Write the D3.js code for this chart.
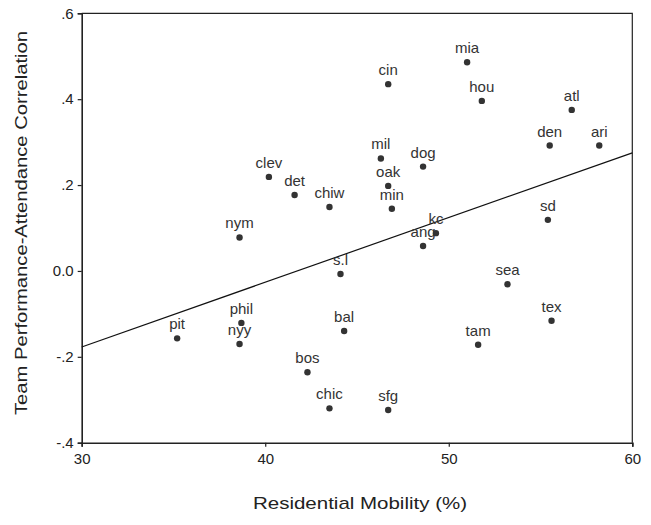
<!DOCTYPE html>
<html>
<head>
<meta charset="utf-8">
<script src="https://cdn.jsdelivr.net/npm/d3@7"></script>
<style>
  body { margin: 0; background: #fff; }
  svg { display: block; font-family: "Liberation Sans", Arial, sans-serif; }
</style>
</head>
<body>
<svg id="chart" width="651" height="525"></svg>
<script>
// team labels, residential mobility (%), performance-attendance correlation
const teams = ['mia', 'cin', 'hou', 'atl', 'den', 'ari', 'mil', 'dog', 'clev', 'oak',
  'det', 'chiw', 'min', 'sd', 'kc', 'nym', 'ang', 's.l', 'sea', 'tex', 'phil', 'bal',
  'pit', 'nyy', 'tam', 'bos', 'chic', 'sfg'];
const mobility = [51.0, 46.7, 51.8, 56.7, 55.5, 58.2, 46.3, 48.6, 40.2, 46.7,
  41.6, 43.5, 46.9, 55.4, 49.3, 38.6, 48.6, 44.1, 53.2, 55.6, 38.7, 44.3,
  35.2, 38.6, 51.6, 42.3, 43.5, 46.7];
const correlation = [0.486, 0.435, 0.396, 0.375, 0.292, 0.292, 0.262, 0.243, 0.219, 0.198,
  0.177, 0.149, 0.145, 0.119, 0.088, 0.078, 0.058, -0.007, -0.031, -0.116, -0.121, -0.140,
  -0.157, -0.170, -0.172, -0.236, -0.320, -0.324];
// fitted line end points
const fitX = [30, 60];
const fitY = [-0.177, 0.275];
const xTicks = [30, 40, 50, 60];
const yTicks = [-0.4, -0.2, 0, 0.2, 0.4, 0.6];
const yTickLabels = ['-.4', '-.2', '0.0', '.2', '.4', '.6'];

const margin = { top: 13.3, left: 81.7, right: 18.7, bottom: 82.3 };
const svg = d3.select('#chart');
const width = +svg.attr('width') - margin.left - margin.right;
const height = +svg.attr('height') - margin.top - margin.bottom;

const x = d3.scaleLinear().domain([30, 60]).range([0, width]);
const y = d3.scaleLinear().domain([-0.4, 0.6]).range([height, 0]);

const g = svg.append('g')
  .attr('transform', `translate(${margin.left}, ${margin.top})`);

// frame top / right
g.append('path')
  .attr('d', `M0,0H${width}V${height}`)
  .attr('fill', 'none')
  .attr('stroke', '#222')
  .attr('stroke-width', 1.2);

const xAxis = g.append('g')
  .attr('transform', `translate(0, ${height})`)
  .call(d3.axisBottom(x).tickValues(xTicks).tickSize(4).tickPadding(7).tickFormat(d3.format('d')));

const yAxis = g.append('g')
  .call(d3.axisLeft(y).tickValues(yTicks).tickSize(4).tickPadding(4)
    .tickFormat((d, i) => yTickLabels[i]));

[xAxis, yAxis].forEach(ax => {
  ax.select('.domain').attr('stroke', '#222').attr('stroke-width', 1.6);
  ax.selectAll('.tick line').attr('stroke', '#222').attr('stroke-width', 1.2);
  ax.selectAll('.tick text')
    .attr('fill', '#222')
    .style('font-size', '15px')
    .style('font-family', '"Liberation Sans", Arial, sans-serif');
});

// fit line
g.append('line')
  .attr('x1', x(fitX[0])).attr('y1', y(fitY[0]))
  .attr('x2', x(fitX[1])).attr('y2', y(fitY[1]))
  .attr('stroke', '#111')
  .attr('stroke-width', 1.2);

const pts = teams.map((t, i) => ({ name: t, x: mobility[i], y: correlation[i] }));

g.selectAll('.dot')
  .data(pts).enter()
  .append('circle')
  .classed('dot', true)
  .attr('cx', d => x(d.x))
  .attr('cy', d => y(d.y))
  .attr('r', 3.2)
  .attr('fill', '#333');

g.selectAll('.lbl')
  .data(pts).enter()
  .append('text')
  .classed('lbl', true)
  .attr('x', d => x(d.x))
  .attr('y', d => y(d.y) - 9)
  .attr('text-anchor', 'middle')
  .attr('fill', '#333')
  .style('font-size', '15px')
  .text(d => d.name);

// axis titles (the original type is a bit stretched sideways)
svg.append('text')
  .attr('transform', 'translate(27, 223) rotate(-90)')
  .attr('text-anchor', 'middle')
  .attr('fill', '#222')
  .attr('textLength', 384)
  .attr('lengthAdjust', 'spacingAndGlyphs')
  .style('font-size', '17px')
  .text('Team Performance-Attendance Correlation');

svg.append('text')
  .attr('x', 360)
  .attr('y', 509)
  .attr('text-anchor', 'middle')
  .attr('fill', '#222')
  .attr('textLength', 214)
  .attr('lengthAdjust', 'spacingAndGlyphs')
  .style('font-size', '17px')
  .text('Residential Mobility (%)');
</script>
</body>
</html>
